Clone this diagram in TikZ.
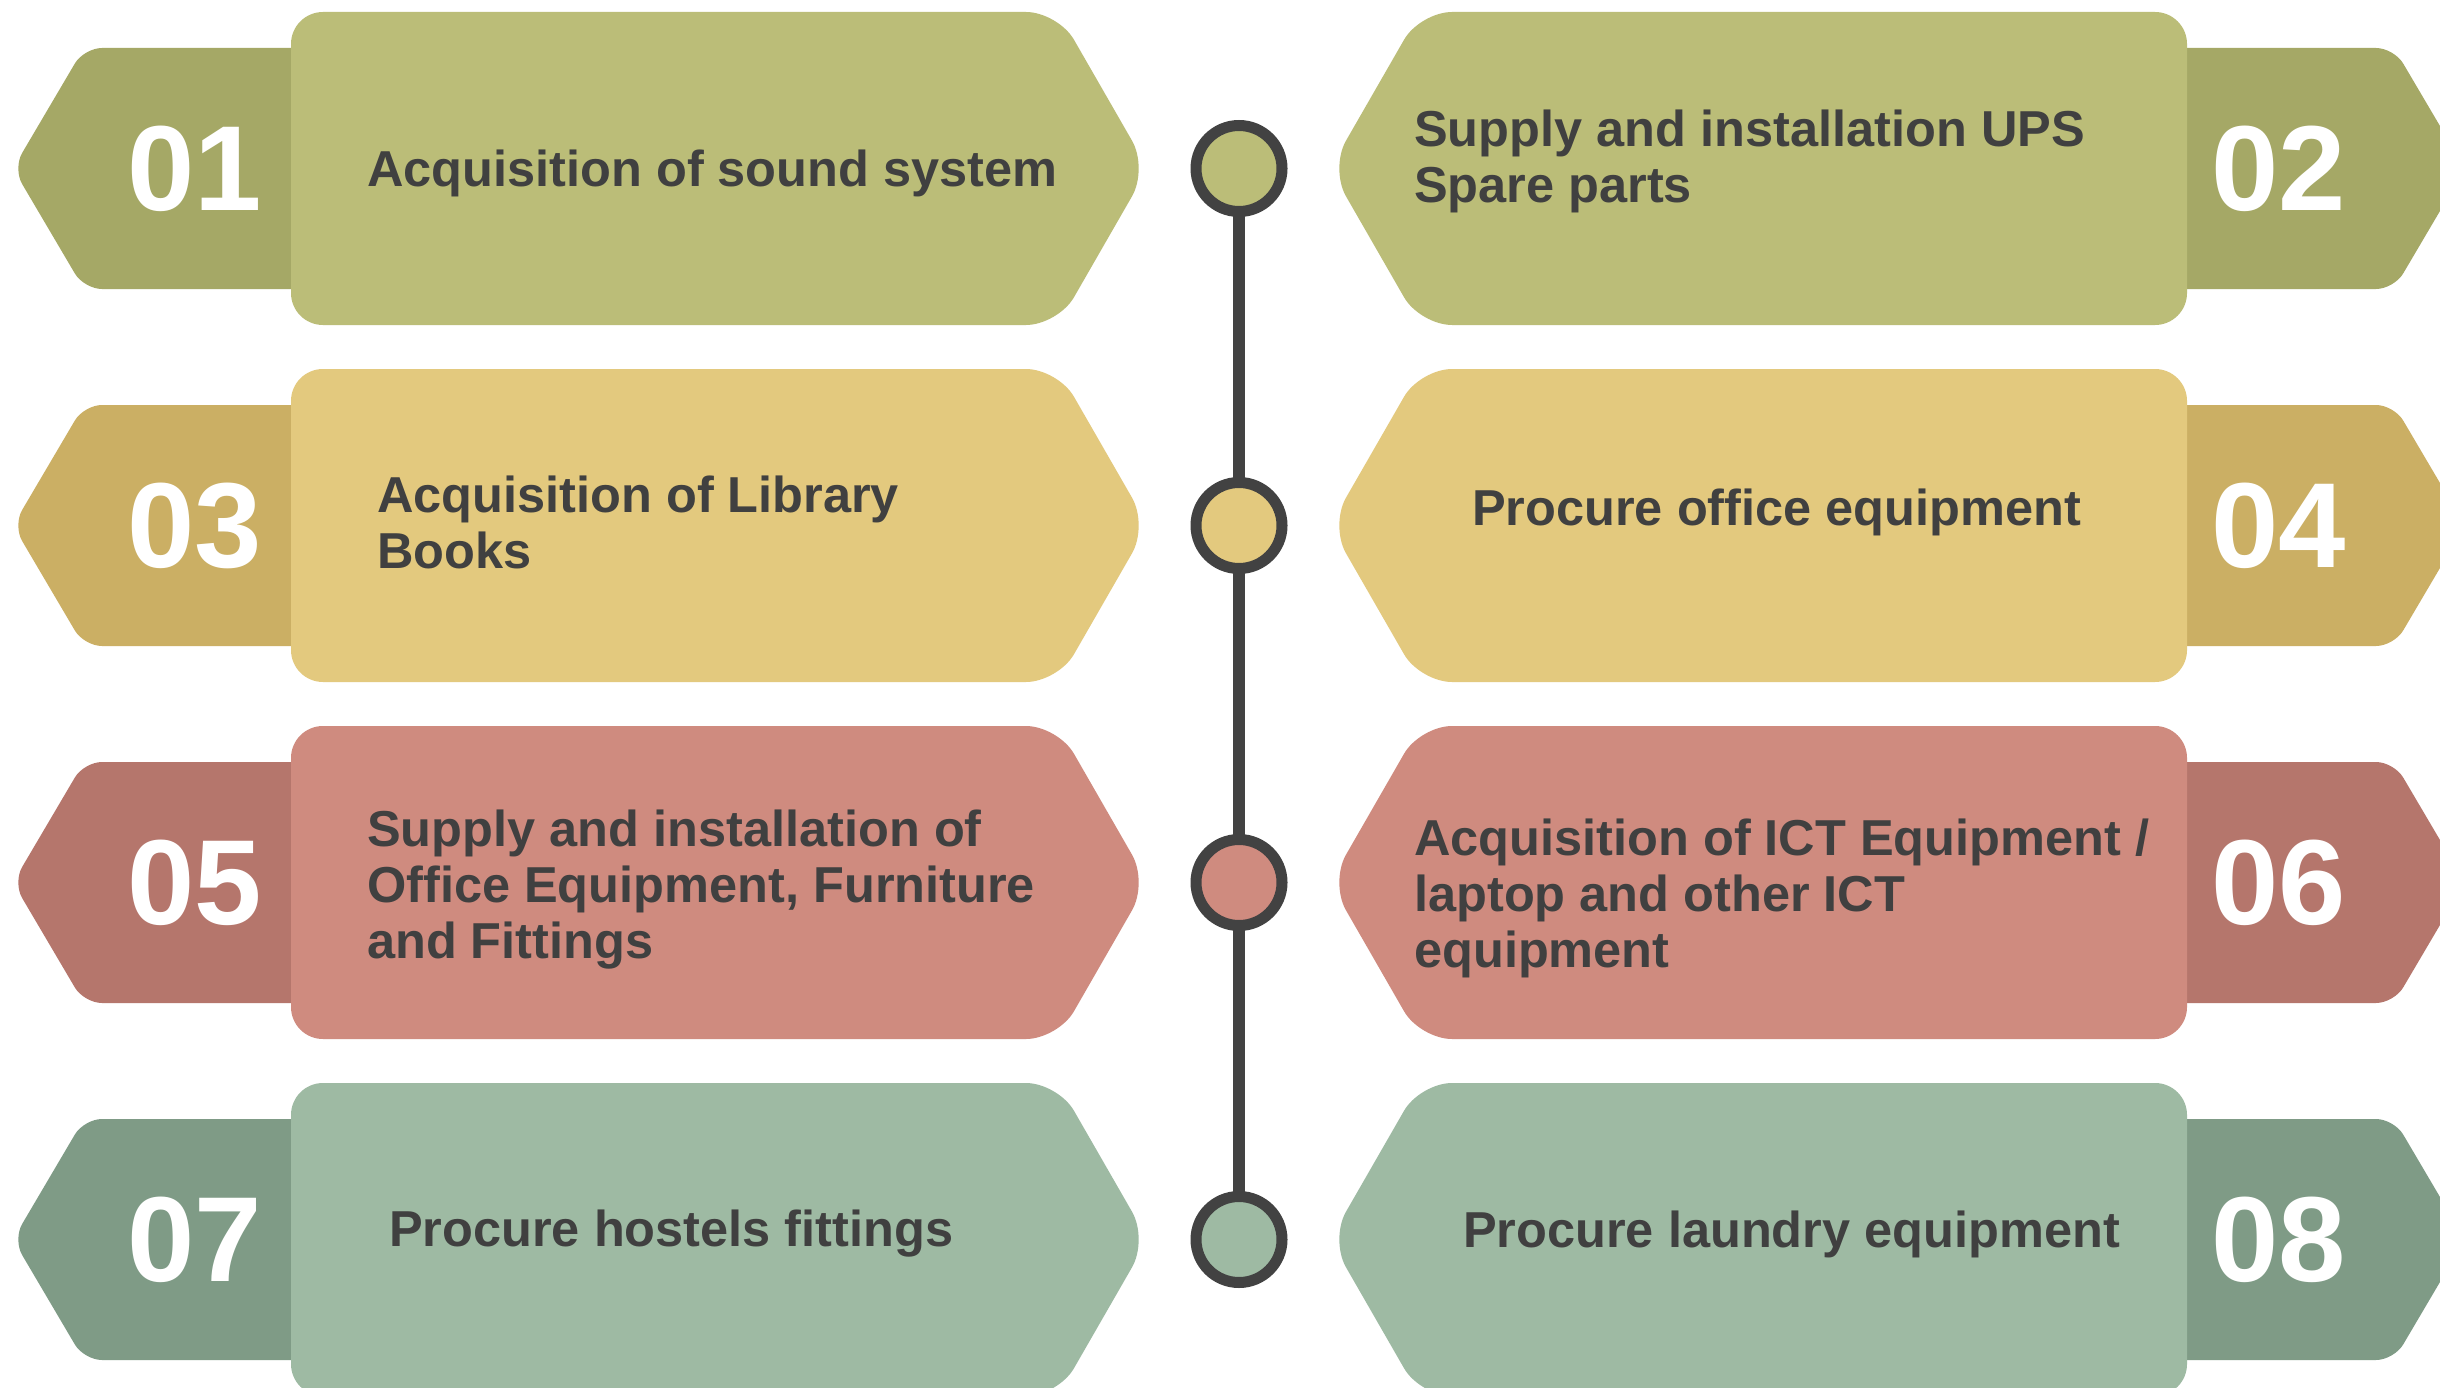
\documentclass[tikz,border=0pt]{standalone}
\usepackage{fontspec}
\setmainfont{Liberation Sans}
\usepackage{xcolor}
\usepackage{tikz}
\definecolor{OliveMain}{RGB}{187,189,120}
\definecolor{OliveTab}{RGB}{165,168,102}
\definecolor{SandMain}{RGB}{227,201,126}
\definecolor{SandTab}{RGB}{203,175,100}
\definecolor{RoseMain}{RGB}{207,139,127}
\definecolor{RoseTab}{RGB}{181,118,108}
\definecolor{SageMain}{RGB}{158,186,163}
\definecolor{SageTab}{RGB}{127,155,134}
\definecolor{Ink}{RGB}{64,64,64}
\definecolor{Ring}{RGB}{66,66,66}

\tikzset{
  numtext/.style={text=white,inner sep=0pt,font=\bfseries\fontsize{121}{121}\selectfont},
  itemtext/.style={text=Ink,inner sep=0pt,anchor=west,align=left,
                   font=\bfseries\fontsize{50.5}{56}\selectfont},
  ringdot/.style={circle,draw=Ring,line width=11pt,minimum size=86pt,inner sep=0pt}
}

\begin{document}
\begin{tikzpicture}[x=1pt,y=-1pt]
  \clip (0,0) rectangle (2440,1388);
  \fill[white] (0,0) rectangle (2440,1388);
  % cards, left and right of the time line
  \foreach \cy/\main/\tab in {168.5/OliveMain/OliveTab,525.5/SandMain/SandTab,
                              882.5/RoseMain/RoseTab,1239.5/SageMain/SageTab}{
    \fill[\tab,rounded corners=18pt] (340,\cy-120.5) -- (84,\cy-120.5) -- (13,\cy)
      -- (84,\cy+120.5) -- (340,\cy+120.5) -- cycle;
    \fill[\main,rounded corners=32pt] (291,\cy-156.5) -- (1058,\cy-156.5) -- (1148,\cy)
      -- (1058,\cy+156.5) -- (291,\cy+156.5) -- cycle;
    \fill[\tab,rounded corners=18pt] (2138,\cy-120.5) -- (2394,\cy-120.5) -- (2465,\cy)
      -- (2394,\cy+120.5) -- (2138,\cy+120.5) -- cycle;
    \fill[\main,rounded corners=32pt] (2187,\cy-156.5) -- (1420,\cy-156.5) -- (1330,\cy)
      -- (1420,\cy+156.5) -- (2187,\cy+156.5) -- cycle;
  }

  % time line
  \draw[Ring,line width=12pt] (1239,168.5) -- (1239,1239.5);
  \node[ringdot,fill=OliveMain] (c1) at (1239,168.5) {};
  \node[ringdot,fill=SandMain]  (c2) at (1239,525.5) {};
  \node[ringdot,fill=RoseMain]  (c3) at (1239,882.5) {};
  \node[ringdot,fill=SageMain]  (c4) at (1239,1239.5) {};

  % numbers
  \node[numtext,anchor=east] (n1) at (262,168.5)  {01};
  \node[numtext,anchor=west] (n2) at (2211,168.5) {02};
  \node[numtext,anchor=east] (n3) at (262,525.5)  {03};
  \node[numtext,anchor=west] (n4) at (2211,525.5) {04};
  \node[numtext,anchor=east] (n5) at (262,882.5)  {05};
  \node[numtext,anchor=west] (n6) at (2211,882.5) {06};
  \node[numtext,anchor=east] (n7) at (262,1239.5) {07};
  \node[numtext,anchor=west] (n8) at (2211,1239.5) {08};

  % items
  \node[itemtext] (t1) at (367,173)  {Acquisition of sound system};
  \node[itemtext] (t2) at (1414,161) {Supply and installation UPS\\Spare parts};
  \node[itemtext] (t3) at (377,522)  {Acquisition of Library\\Books};
  \node[itemtext] (t4) at (1472,512) {Procure office equipment};
  \node[itemtext] (t5) at (367,890)  {Supply and installation of\\Office Equipment, Furniture\\and Fittings};
  \node[itemtext] (t6) at (1414,898) {Acquisition of ICT Equipment /\\laptop and other ICT\\equipment};
  \node[itemtext] (t7) at (389,1234) {Procure hostels fittings};
  \node[itemtext] (t8) at (1463,1234) {Procure laundry equipment};
\end{tikzpicture}
\end{document}
